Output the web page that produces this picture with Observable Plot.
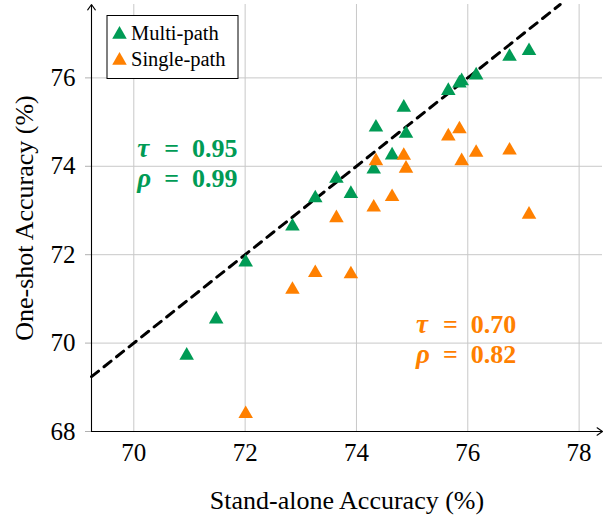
<!DOCTYPE html>
<html><head><meta charset="utf-8">
<script src="https://cdn.jsdelivr.net/npm/d3@7"></script>
<script src="https://cdn.jsdelivr.net/npm/@observablehq/plot@0.6"></script>
<style>body{margin:0;background:#fff} svg{display:block}</style>
</head><body><div id="chart"></div>
<script>
// ---- data ----
const seriesNames = ["Multi-path", "Single-path"];
const seriesColors = ["#009b55", "#ff8000"];
const multiX = [70.95, 71.48, 72.01, 72.85, 73.26, 73.64, 73.90, 74.31, 74.35, 74.64, 74.85, 74.89, 75.65, 75.85, 75.89, 76.15, 76.75, 77.10];
const multiY = [69.72, 70.54, 71.83, 72.64, 73.28, 73.72, 73.38, 73.93, 74.88, 74.25, 75.33, 74.74, 75.71, 75.88, 75.93, 76.06, 76.48, 76.61];
const singleX = [72.01, 72.85, 73.26, 73.64, 73.90, 74.31, 74.35, 74.64, 74.85, 74.89, 75.65, 75.85, 75.89, 76.15, 76.75, 77.10];
const singleY = [68.40, 71.21, 71.59, 72.83, 71.56, 73.07, 74.12, 73.31, 74.24, 73.95, 74.68, 74.84, 74.12, 74.31, 74.36, 72.91];
const tauValues = ["0.95", "0.70"];
const rhoValues = ["0.99", "0.82"];
const xTicks = [70, 72, 74, 76, 78];
const yTicks = [68, 70, 72, 74, 76];
const xDomain = [69.24, 78.42];
const yDomain = [68, 77.66];
const xLabel = "Stand-alone Accuracy (%)";
const yLabel = "One-shot Accuracy (%)";

// ---- layout ----
const annoPos = [ {x: 70.06, tauY: 74.20, rhoY: 73.53}, {x: 75.07, tauY: 70.22, rhoY: 69.54} ];
const serif = "Liberation Serif, Times New Roman, serif";

const points = [
  ...multiX.map((x, i) => ({x, y: multiY[i], s: seriesNames[0]})),
  ...singleX.map((x, i) => ({x, y: singleY[i], s: seriesNames[1]}))
];
const diag = [xDomain[0], yDomain[1]].map(v => ({x: v, y: v}));
const annos = seriesNames.map((s, i) => ({s, tau: tauValues[i], rho: rhoValues[i], ...annoPos[i]}));

const plot = Plot.plot({
  width: 605, height: 520,
  marginLeft: 91, marginRight: 3, marginTop: 4, marginBottom: 89,
  style: {fontFamily: serif, fontSize: "25px", background: "white", color: "black"},
  x: {domain: xDomain, label: null},
  y: {domain: yDomain, label: null},
  color: {domain: seriesNames, range: seriesColors},
  marks: [
    Plot.gridX(xTicks, {stroke: "#c8c8c8", strokeOpacity: 1, strokeWidth: 1}),
    Plot.gridY(yTicks, {stroke: "#c8c8c8", strokeOpacity: 1, strokeWidth: 1}),
    Plot.axisX(xTicks, {tickSize: 0, tickPadding: 12, fontSize: 25, fontFamily: serif, label: null}),
    Plot.axisY(yTicks, {tickSize: 6, tickPadding: 10, stroke: "#b0b0b0", fill: "black", fontSize: 25, fontFamily: serif, label: null}),
    Plot.arrow([0], {x1: xDomain[0], y1: yDomain[0], x2: xDomain[1], y2: yDomain[0], stroke: "black", strokeWidth: 1.1, headLength: 9, headAngle: 70}),
    Plot.arrow([0], {x1: xDomain[0], y1: yDomain[0], x2: xDomain[0], y2: yDomain[1], stroke: "black", strokeWidth: 1.1, headLength: 9, headAngle: 70}),
    Plot.line(diag, {x: "x", y: "y", stroke: "black", strokeWidth: 3, strokeDasharray: "9,7"}),
    Plot.dot(points, {x: "x", y: "y", fill: "s", symbol: "triangle", r: 5.4}),
    Plot.text(annos, {x: "x", y: "tauY", text: () => "τ", fill: "s", fontStyle: "italic", fontWeight: "bold", fontSize: 27, textAnchor: "start", lineAnchor: "bottom", fontFamily: serif}),
    Plot.text(annos, {x: "x", y: "tauY", text: d => "=\u2002" + d.tau, fill: "s", fontWeight: "bold", fontSize: 26, textAnchor: "start", lineAnchor: "bottom", dx: 27, fontFamily: serif}),
    Plot.text(annos, {x: "x", y: "rhoY", text: () => "ρ", fill: "s", fontStyle: "italic", fontWeight: "bold", fontSize: 27, textAnchor: "start", lineAnchor: "bottom", fontFamily: serif}),
    Plot.text(annos, {x: "x", y: "rhoY", text: d => "=\u2002" + d.rho, fill: "s", fontWeight: "bold", fontSize: 26, textAnchor: "start", lineAnchor: "bottom", dx: 27, fontFamily: serif}),
    Plot.text([xLabel], {frameAnchor: "bottom", dy: 77, textAnchor: "middle", lineAnchor: "bottom", fontSize: 26, fontFamily: serif}),
    Plot.text([yLabel], {frameAnchor: "left", dx: -59, rotate: -90, textAnchor: "middle", lineAnchor: "bottom", fontSize: 26, fontFamily: serif})
  ]
});

// legend box
const svg = d3.select(plot);
const lg = svg.append("g").attr("text-anchor", "start");
lg.append("rect").attr("x", 107).attr("y", 15.5).attr("width", 131).attr("height", 63)
  .attr("fill", "white").attr("stroke", "black").attr("stroke-width", 1);
seriesNames.forEach((name, i) => {
  lg.append("path").attr("d", d3.symbol(d3.symbolTriangle, Math.PI * 5.4 * 5.4)())
    .attr("transform", `translate(119.5,${34.5 + i * 26})`).attr("fill", seriesColors[i]);
  lg.append("text").attr("x", 131).attr("y", 39.5 + i * 26).attr("font-size", 20.5)
    .attr("text-anchor", "start").attr("font-family", serif).attr("fill", "black").text(name);
});
document.getElementById("chart").appendChild(plot);
</script>
</body></html>
